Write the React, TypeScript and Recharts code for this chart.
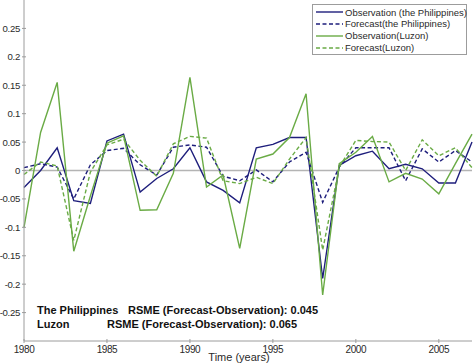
import { LineChart, Line, XAxis, YAxis, ReferenceLine, Legend } from "recharts";

const years = [
  1980, 1981, 1982, 1983, 1984, 1985, 1986, 1987, 1988, 1989, 1990, 1991, 1992, 1993,
  1994, 1995, 1996, 1997, 1998, 1999, 2000, 2001, 2002, 2003, 2004, 2005, 2006, 2007,
];

const obsPhilippines = [
  -0.03, 0.0, 0.04, -0.053, -0.058, 0.052, 0.064, -0.038, -0.014, 0.003, 0.04, -0.02, -0.035, -0.057,
  0.04, 0.046, 0.058, 0.058, -0.19, 0.009, 0.026, 0.034, 0.003, 0.011, 0.003, -0.022, -0.022, 0.05,
];

const forecastPhilippines = [
  0.005, 0.012, 0.006, -0.05, 0.01, 0.035, 0.039, 0.01, -0.008, 0.041, 0.045, 0.041, -0.01, -0.018,
  0.001, -0.02, 0.015, 0.032, -0.056, 0.006, 0.04, 0.04, 0.04, -0.018, 0.038, 0.015, 0.035, 0.015,
];

const obsLuzon = [
  -0.1, 0.067, 0.155, -0.142, -0.045, 0.048, 0.061, -0.07, -0.069, -0.005, 0.164, -0.029, -0.008, -0.137,
  0.02, 0.029, 0.058, 0.135, -0.219, 0.012, 0.032, 0.06, -0.02, -0.005, -0.015, -0.041, 0.012, 0.064,
];

const forecastLuzon = [
  -0.007, 0.015, 0.008, -0.123, -0.003, 0.045, 0.055, 0.018, -0.01, 0.047, 0.06, 0.057, -0.018, -0.023,
  -0.012, -0.023, 0.02, 0.058, -0.14, 0.006, 0.053, 0.051, 0.05, 0.0, 0.054, 0.026, 0.04, 0.005,
];

const seriesNames = [
  "Observation (the Philippines)",
  "Forecast(the Philippines)",
  "Observation(Luzon)",
  "Forecast(Luzon)",
];

const xTicks = [1980, 1985, 1990, 1995, 2000, 2005];
const yTicks = [-0.25, -0.2, -0.15, -0.1, -0.05, 0, 0.05, 0.1, 0.15, 0.2, 0.25];

const NAVY = "#1e1e7c";
const GREEN = "#6aab45";
const AXIS = "#9c9c9c";
const TEXT = "#2a2a2a";
const FONT = '"Liberation Sans", Arial, sans-serif';

const data = years.map((year, i) => ({
  year,
  obsPhil: obsPhilippines[i],
  forePhil: forecastPhilippines[i],
  obsLuzon: obsLuzon[i],
  foreLuzon: forecastLuzon[i],
}));

// matlab style: ticks point into the plot box
function XTick({ x, y, payload }: any) {
  return (
    <g>
      <line x1={x} x2={x} y1={y} y2={y - 4} stroke={AXIS} />
      <text x={x} y={y + 10} textAnchor="middle" fontSize={10} letterSpacing={-0.4} fill={TEXT} fontFamily={FONT}>
        {payload.value}
      </text>
    </g>
  );
}

function YTick({ x, y, payload }: any) {
  const v = payload.value;
  const label = v === 0 ? "0" : (v < 0 ? "-" : "") + String(Math.abs(v));
  return (
    <g>
      <line x1={x} x2={x + 4} y1={y} y2={y} stroke={AXIS} />
      <text x={x - 2} y={y + 3.5} textAnchor="end" fontSize={9.6} letterSpacing={-0.3} fill={TEXT} fontFamily={FONT}>
        {label}
      </text>
    </g>
  );
}

function LegendBox({ payload }: any) {
  const items = [...(payload || [])].sort(
    (a: any, b: any) => seriesNames.indexOf(a.value) - seriesNames.indexOf(b.value)
  );
  return (
    <div
      style={{
        boxSizing: "border-box",
        width: 155,
        border: `1px solid ${AXIS}`,
        background: "#fff",
        padding: "1.5px 0 0.5px 3px",
        fontFamily: FONT,
        fontSize: 9.5,
        lineHeight: "11.8px",
        color: TEXT,
        textAlign: "left",
      }}
    >
      {items.map((entry: any) => (
        <div key={entry.value} style={{ display: "flex", alignItems: "center", whiteSpace: "nowrap" }}>
          <svg width={27} height={6} style={{ flex: "none" }}>
            <line
              x1={0}
              x2={27}
              y1={3}
              y2={3}
              stroke={entry.color}
              strokeWidth={1.4}
              strokeDasharray={entry.payload?.strokeDasharray}
            />
          </svg>
          <span style={{ marginLeft: 2 }}>{entry.value}</span>
        </div>
      ))}
    </div>
  );
}

export default function App() {
  return (
    <div style={{ position: "absolute", left: 0, top: 0, width: 474, height: 364, background: "#fff" }}>
      <LineChart width={474} height={364} data={data} margin={{ top: 0, right: 2, left: 0, bottom: 0 }}>
        <XAxis
          dataKey="year"
          type="number"
          domain={[1980, 2007]}
          ticks={xTicks}
          height={23}
          tickSize={0}
          tickLine={false}
          stroke={AXIS}
          tick={<XTick />}
          label={{
            value: "Time (years)",
            position: "insideBottom",
            offset: 3,
            dx: -9,
            fontSize: 11,
            fill: TEXT,
            fontFamily: FONT,
          }}
        />
        <XAxis
          xAxisId="top"
          orientation="top"
          mirror
          height={0}
          type="number"
          domain={[1980, 2007]}
          ticks={xTicks}
          tick={false}
          tickSize={4}
          stroke={AXIS}
        />
        <YAxis
          type="number"
          domain={[-0.3, 0.3]}
          ticks={yTicks}
          width={24}
          tickSize={0}
          tickLine={false}
          stroke={AXIS}
          tick={<YTick />}
        />
        <YAxis
          yAxisId="right"
          orientation="right"
          mirror
          width={0}
          type="number"
          domain={[-0.3, 0.3]}
          ticks={yTicks}
          tick={false}
          tickSize={4}
          stroke={AXIS}
        />
        <ReferenceLine y={0} stroke="#b4b4b4" strokeWidth={1.5} />
        <Legend
          layout="horizontal"
          verticalAlign="middle"
          align="center"
          content={<LegendBox />}
          wrapperStyle={{ top: 4, left: 312, width: 155 }}
        />
        <Line
          dataKey="obsPhil"
          name={seriesNames[0]}
          stroke={NAVY}
          strokeWidth={1.4}
          dot={false}
          type="linear"
          isAnimationActive={false}
        />
        <Line
          dataKey="forePhil"
          name={seriesNames[1]}
          stroke={NAVY}
          strokeWidth={1.4}
          strokeDasharray="4 2.5"
          dot={false}
          type="linear"
          isAnimationActive={false}
        />
        <Line
          dataKey="obsLuzon"
          name={seriesNames[2]}
          stroke={GREEN}
          strokeWidth={1.4}
          dot={false}
          type="linear"
          isAnimationActive={false}
        />
        <Line
          dataKey="foreLuzon"
          name={seriesNames[3]}
          stroke={GREEN}
          strokeWidth={1.4}
          strokeDasharray="4 2.5"
          dot={false}
          type="linear"
          isAnimationActive={false}
        />
      </LineChart>
      <svg
        width={474}
        height={364}
        style={{ position: "absolute", left: 0, top: 0, pointerEvents: "none" }}
        fontFamily={FONT}
        fontWeight="bold"
        fontSize={11}
        fill="#111"
      >
        <text x={37} y={314}>The Philippines</text>
        <text x={128} y={314}>RSME (Forecast-Observation): 0.045</text>
        <text x={37} y={328}>Luzon</text>
        <text x={107} y={328}>RSME (Forecast-Observation): 0.065</text>
      </svg>
    </div>
  );
}
